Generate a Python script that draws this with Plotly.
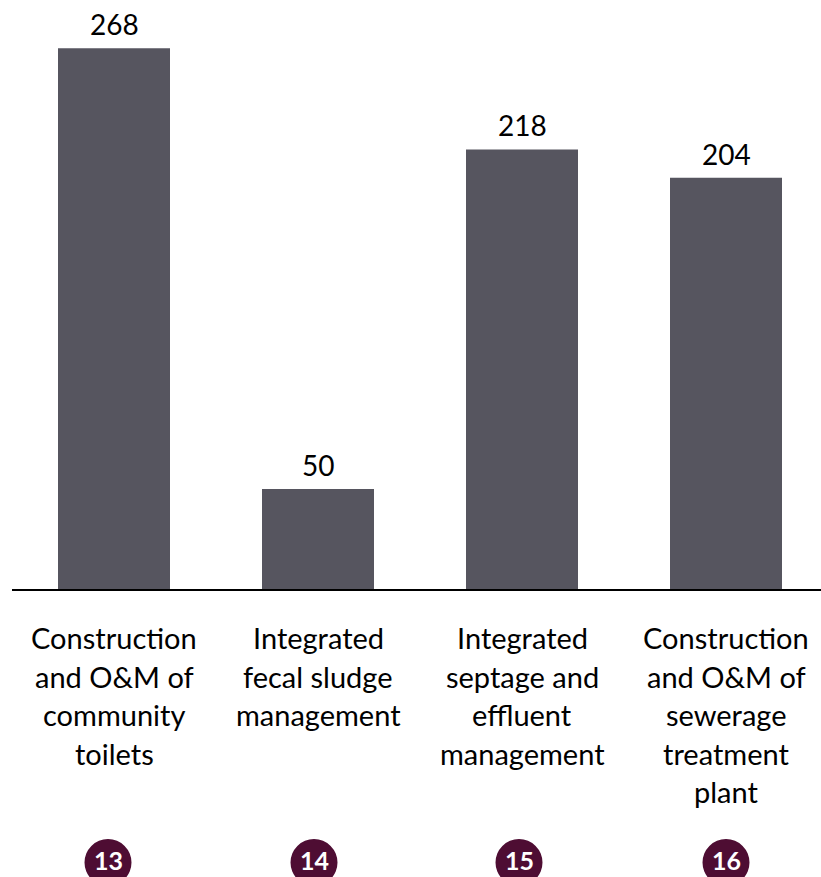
import plotly.graph_objects as go

# Data
categories = [
    ["Construction", "and O&amp;M of", "community", "toilets"],
    ["Integrated", "fecal sludge", "management"],
    ["Integrated", "septage and", "effluent", "management"],
    ["Construction", "and O&amp;M of", "sewerage", "treatment", "plant"],
]
values = [268, 50, 218, 204]
badges = ["13", "14", "15", "16"]
badge_offsets_px = [-6, -4, -3, 0]

BAR_COLOR = "#56555f"
BADGE_COLOR = "#4e0d33"
FONT = "Lato"
LINE_GAP = 38.5

xs = list(range(len(values)))

fig = go.Figure(
    go.Bar(
        x=xs,
        y=values,
        width=0.549,
        marker=dict(color=BAR_COLOR, line=dict(width=0)),
        hoverinfo="skip",
    )
)

annotations = []
shapes = []

# Value labels above bars
for x, v in zip(xs, values):
    annotations.append(dict(
        x=x, y=v, xref="x", yref="y", text=str(v), showarrow=False,
        yanchor="bottom", yshift=5,
        font=dict(family=FONT, size=28, color="#000000"),
    ))

# Category labels below the baseline, one annotation per line
for x, lines in zip(xs, categories):
    for k, line in enumerate(lines):
        annotations.append(dict(
            x=x, y=0, xref="x", yref="paper", text=line, showarrow=False,
            yanchor="top", yshift=-28 - LINE_GAP * k, align="center",
            font=dict(family=FONT, size=29, color="#000000"),
        ))

# Numbered badges
for x, b, off in zip(xs, badges, badge_offsets_px):
    shapes.append(dict(
        type="circle", xref="x", yref="paper",
        xsizemode="pixel", ysizemode="pixel",
        xanchor=x, yanchor=0,
        x0=off - 23.5, x1=off + 23.5,
        y0=-272.5 - 23.5, y1=-272.5 + 23.5,
        fillcolor=BADGE_COLOR, line=dict(width=0), layer="above",
    ))
    annotations.append(dict(
        x=x, y=0, xref="x", yref="paper", text="<b>%s</b>" % b, showarrow=False,
        xshift=off, yshift=-270, yanchor="middle",
        font=dict(family=FONT, size=25, color="#ffffff"),
    ))

# Baseline
shapes.append(dict(
    type="line", xref="paper", yref="paper",
    x0=12 / 821, x1=1, y0=0, y1=0,
    line=dict(color="#000000", width=2), layer="above",
))

fig.update_layout(
    width=821, height=877,
    margin=dict(l=0, r=0, t=0, b=287, pad=0),
    paper_bgcolor="#ffffff", plot_bgcolor="#ffffff",
    showlegend=False,
    xaxis=dict(range=[-114 / 204, (821 - 114) / 204], visible=False, fixedrange=True),
    yaxis=dict(range=[0, 590 / 2.021], visible=False, fixedrange=True),
    annotations=annotations,
    shapes=shapes,
)

fig.write_html("out.html")
